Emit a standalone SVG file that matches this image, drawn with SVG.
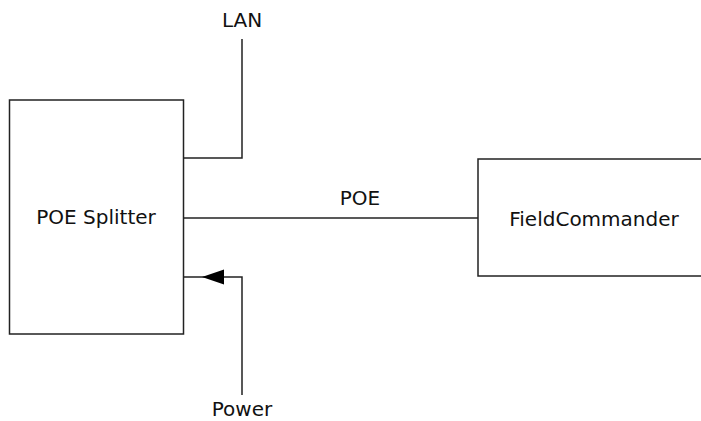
<svg xmlns="http://www.w3.org/2000/svg" width="701" height="421" viewBox="0 0 701 421">
  <style>
    .box { fill: #ffffff; stroke: #222222; stroke-width: 1.5; }
    .wire { fill: none; stroke: #222222; stroke-width: 1.5; }
    .head { fill: #000000; stroke: none; }
    .lbl { font-family: "DejaVu Sans", Verdana, sans-serif; font-size: 20px; fill: #111111; text-anchor: middle; }
  </style>
  <rect width="701" height="421" fill="#ffffff"/>
  <g id="connectors">
    <path class="wire" d="M183,158 H242 V39"/>
    <path class="wire" d="M183,218 H478"/>
    <path class="wire" d="M242,395 V277 H183"/>
    <polygon class="head" points="202,277 224,269.5 224,284.5"/>
  </g>
  <g id="poe-splitter">
    <rect class="box" x="9.5" y="100" width="174" height="234"/>
    <text class="lbl" x="96" y="224">POE Splitter</text>
  </g>
  <g id="fieldcommander">
    <rect class="box" x="478" y="159" width="240" height="117"/>
    <text class="lbl" x="594" y="226">FieldCommander</text>
  </g>
  <g id="lan">
    <text class="lbl" x="242" y="27">LAN</text>
  </g>
  <g id="poe-label">
    <text class="lbl" x="360" y="205">POE</text>
  </g>
  <g id="power">
    <text class="lbl" x="242" y="416">Power</text>
  </g>
</svg>
